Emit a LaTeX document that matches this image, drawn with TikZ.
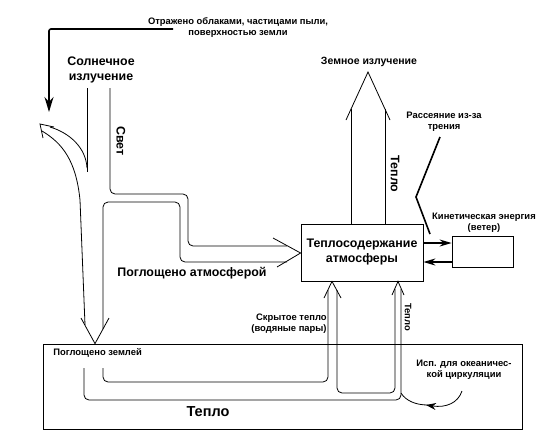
\documentclass[tikz,border=0pt]{standalone}
\usepackage{fontspec}
\setmainfont{Liberation Sans}
\usetikzlibrary{arrows.meta}

\begin{document}
\begin{tikzpicture}[x = 1pt, y = -1pt, line width = 0.8pt,
                lbl/.style = {font = \bfseries\fontsize{9.4}{11}\selectfont, align = center, inner sep = 0pt},
                mid/.style = {font = \bfseries\fontsize{10.5}{13}\selectfont, align = center, inner sep = 0pt},
                big/.style = {font = \bfseries\fontsize{12.4}{15}\selectfont, align = center, inner sep = 0pt},
                flow/.style = {rounded corners = 5pt},
                thickline/.style = {line width = 1.6pt}]
                \useasboundingbox (0,0) rectangle (548,445);
                
                % boxes
                \node (Atm) [draw, big, minimum width = 122pt, minimum height = 57pt] at (362,252.5) {Теплосодержание\\атмосферы};
                \node (Wind) [draw, minimum width = 61pt, minimum height = 31pt] at (482.5,251.5) {};
                \node (Earth) [draw, minimum width = 479pt, minimum height = 85pt] at (282.5,386.5) {};
                
                % labels
                \node (Refl) [lbl] at (238,27.5) {Отражено облаками, частицами пыли,\\поверхностью земли};
                \node (Sun) [big] at (101,70) {Солнечное\\излучение};
                \node (Light) [big, rotate = -90] at (121,141) {Свет};
                \node (Rad) [mid] at (369,62) {Земное излучение};
                \node (HeatUp) [big, rotate = -90] at (395,174) {Тепло};
                \node (Fric) [lbl] at (444,122) {Рассеяние из-за\\трения};
                \node (Kin) [lbl] at (484,222.5) {Кинетическая энергия\\(ветер)};
                \node (AbsAtm) [big] at (192,273) {Поглощено атмосферой};
                \node (Latent) [lbl, align = right, anchor = east] at (327,323.5) {Скрытое тепло\\(водяные пары)};
                \node (HeatSm) [lbl, rotate = -90] at (408,317) {Тепло};
                \node (AbsEarth) [lbl, anchor = west] at (53,353) {Поглощено землей};
                \node (Ocean) [lbl] at (464,369.5) {Исп. для океаничес-\\кой циркуляции};
                \node (Heat) [big, font = \bfseries\fontsize{14.5}{17}\selectfont] at (208,412) {Тепло};
                
                \coordinate (R0) at (173,29);
                \coordinate (R1) at (49,112);
                \coordinate (Fr) at (440,137);
                
                % reflected part
                \draw[thickline, rounded corners = 2pt, -{Stealth[length = 15pt, width = 9pt]}] (R0) -- (R1 |- R0) -- (R1);
                \draw (50,127) .. controls (70,133) and (86,148) .. (87,168);
                \draw (42,131) .. controls (62,143) and (76,160) .. (80,200) -- (85,325);
                \draw (54,127) -- (40,124) -- (43,138);
                
                % solar beam
                \draw (87,88) -- (87,172);
                \draw[flow] (110,88) -- (110,194) -- (188,194) -- (188,246) -- (287,246);
                \draw[flow] (103,329) -- (103,202) -- (180,202) -- (180,262) -- (287,262);
                \draw (273,238) -- (Atm.west |- 0,253) -- (277,267);
                \draw (81,318) -- (Earth.north -| 95,0) -- (109,318);
                
                % earth radiation
                \draw (351,224) -- (351,109);
                \draw (385,224) -- (385,109);
                \draw (346,120) -- (368,72) -- (390,120);
                
                % wind
                \draw[thickline, -{Stealth[length = 12pt, width = 7pt]}] (Atm.east |- 0,243) -- (Wind.west |- 0,243);
                \draw[thickline, -{Stealth[length = 12pt, width = 7pt]}] (Wind.west |- 0,262) -- (Atm.east |- 0,262);
                \draw[thickline] (Fr) -- (416,197) -- (430,234);
                
                % heat from the earth
                \draw[flow] (103,368) -- (103,382) -- (328,382) -- (328,290);
                \draw (324,298) -- (Atm.south -| 332,0) -- (341,298);
                \draw[flow] (337,290) -- (337,393) -- (395,393) -- (395,289);
                \draw (392,295) -- (Atm.south -| 398,0) -- (404,295);
                \draw[flow] (84,368) -- (84,400) -- (401,400) -- (401,289);
                
                % ocean circulation
                \draw (401,393) .. controls (406,401) and (416,405) .. (428,405);
                \draw[-{Stealth[length = 10pt, width = 7pt]}] (462,391) .. controls (458,403) and (446,408) .. (426,405);
            \end{tikzpicture}
\end{document}
